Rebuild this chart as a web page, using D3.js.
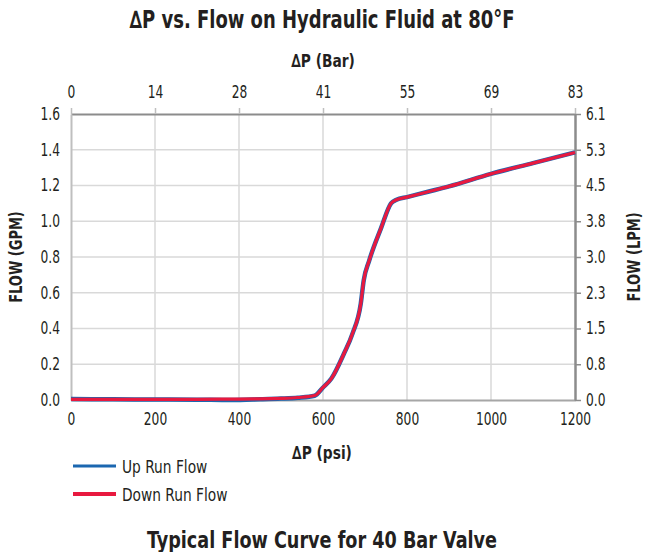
<!DOCTYPE html>
<html><head><meta charset="utf-8">
<script src="https://cdn.jsdelivr.net/npm/d3@7"></script>
<style>
body{margin:0;background:#fff;}
text{font-family:"Liberation Sans Narrow","DejaVu Sans Condensed","Roboto Condensed",sans-serif;fill:#231f20;}
</style></head><body>
<svg id="c" width="645" height="552"></svg>
<script>
const psi = [0,100,200,300,380,450,500,540,580,600,620,650,670,690,697,710,738,762,775,800,850,900,1000,1100,1200];
const downRun = [0.003,0.003,0.004,0.004,0.005,0.006,0.009,0.014,0.025,0.07,0.12,0.26,0.37,0.54,0.67,0.78,0.96,1.10,1.12,1.135,1.165,1.195,1.265,1.325,1.385];
const upRun = [0.005,0.004,0.003,0.002,0.000,0.004,0.008,0.013,0.024,0.07,0.12,0.26,0.37,0.54,0.67,0.78,0.96,1.10,1.12,1.135,1.165,1.195,1.265,1.325,1.385];
const psiTicks = [0,200,400,600,800,1000,1200];
const barTickLabels = ["0","14","28","41","55","69","83"];
const gpmTicks = [0,0.2,0.4,0.6,0.8,1.0,1.2,1.4,1.6];
const lpmTickLabels = ["0.0","0.8","1.5","2.3","3.0","3.8","4.5","5.3","6.1"];
const seriesNames = ["Up Run Flow","Down Run Flow"];
const seriesColors = ["#1b67b0","#e8193f"];

const svg = d3.select("#c");
const L=71,R=575,T=114,B=400;
const x = d3.scaleLinear().domain([0,1200]).range([L,R]);
const y = d3.scaleLinear().domain([0,1.6]).range([B,T]);

function condense(sel, f){
  sel.each(function(){
    const w = this.getComputedTextLength();
    d3.select(this).attr("textLength", w*f).attr("lengthAdjust","spacingAndGlyphs");
  });
}

// grid
const g = svg.append("g");
g.selectAll("line.v").data(psiTicks.slice(1,-1)).enter().append("line")
 .attr("x1",d=>x(d)).attr("x2",d=>x(d)).attr("y1",T).attr("y2",B)
 .attr("stroke","#d9d9d9").attr("stroke-width",1.5);
g.selectAll("line.h").data(gpmTicks.slice(1,-1)).enter().append("line")
 .attr("x1",L).attr("x2",R).attr("y1",d=>y(d)).attr("y2",d=>y(d))
 .attr("stroke","#d9d9d9").attr("stroke-width",1.5);

// axes
const fs = 17;
const axB = svg.append("g").attr("transform",`translate(0,${B})`)
 .call(d3.axisBottom(x).tickValues(psiTicks).tickSize(0).tickPadding(13).tickFormat(d3.format("d")));
const axT = svg.append("g").attr("transform",`translate(0,${T})`)
 .call(d3.axisTop(x).tickValues(psiTicks).tickSizeInner(6).tickSizeOuter(0).tickPadding(10).tickFormat((d,i)=>barTickLabels[i]));
const axL = svg.append("g").attr("transform",`translate(${L},0)`)
 .call(d3.axisLeft(y).tickValues(gpmTicks).tickSize(0).tickPadding(11).tickFormat(d3.format(".1f")));
const axR = svg.append("g").attr("transform",`translate(${R},0)`)
 .call(d3.axisRight(y).tickValues(gpmTicks).tickSizeInner(6).tickSizeOuter(0).tickPadding(5).tickFormat((d,i)=>lpmTickLabels[i]));
[axB,axT,axL,axR].forEach(a=>{a.attr("font-family",null).attr("font-size",null);a.selectAll("text").attr("font-size",fs).style("fill","#231f20");condense(a.selectAll("text"),0.8);});
axB.select(".domain").attr("stroke","#a6a6a6").attr("stroke-width",2);
axL.select(".domain").attr("stroke","#bfbfbf").attr("stroke-width",2);
axT.select(".domain").attr("stroke","#8c8c8c").attr("stroke-width",2);
axT.selectAll(".tick line").attr("stroke","#bfbfbf").attr("stroke-width",1.5);
axR.select(".domain").attr("stroke","#8c8c8c").attr("stroke-width",2.5);
axR.selectAll(".tick line").attr("stroke","#8c8c8c").attr("stroke-width",1.5);

// lines
const line = d3.line().x((d,i)=>x(psi[i])).y(d=>y(d)).curve(d3.curveMonotoneX);
svg.append("path").datum(upRun).attr("d",line).attr("fill","none").attr("stroke",seriesColors[0]).attr("stroke-width",4.5).attr("stroke-linejoin","round");
svg.append("path").datum(downRun).attr("d",line).attr("fill","none").attr("stroke",seriesColors[1]).attr("stroke-width",3.2).attr("stroke-linejoin","round");

// titles
const t1 = svg.append("text").attr("x",322).attr("y",28).attr("text-anchor","middle").attr("font-size",24).attr("font-weight","bold").text("∆P vs. Flow on Hydraulic Fluid at 80°F").attr("textLength",385).attr("lengthAdjust","spacingAndGlyphs");
condense(svg.append("text").attr("x",323).attr("y",67).attr("text-anchor","middle").attr("font-size",18).attr("font-weight","bold").text("∆P (Bar)"),0.85);
condense(svg.append("text").attr("x",322).attr("y",459).attr("text-anchor","middle").attr("font-size",18).attr("font-weight","bold").text("∆P (psi)"),0.85);
condense(svg.append("text").attr("transform","translate(22,257) rotate(-90)").attr("text-anchor","middle").attr("font-size",17).attr("font-weight","bold").text("FLOW (GPM)"),0.85);
condense(svg.append("text").attr("transform","translate(640,257) rotate(-90)").attr("text-anchor","middle").attr("font-size",17).attr("font-weight","bold").text("FLOW (LPM)"),0.85);
svg.append("text").attr("x",322).attr("y",548).attr("text-anchor","middle").attr("font-size",23).attr("font-weight","bold").text("Typical Flow Curve for 40 Bar Valve").attr("textLength",350).attr("lengthAdjust","spacingAndGlyphs");

// legend
const lg = svg.append("g");
seriesNames.forEach((n,i)=>{
  const yy = 466 + i*28;
  lg.append("line").attr("x1",73).attr("x2",116).attr("y1",yy).attr("y2",yy).attr("stroke",seriesColors[i]).attr("stroke-width",i?4:3);
  condense(lg.append("text").attr("x",122).attr("y",yy+6.5).attr("font-size",18).text(n),0.85);
});
</script></body></html>
